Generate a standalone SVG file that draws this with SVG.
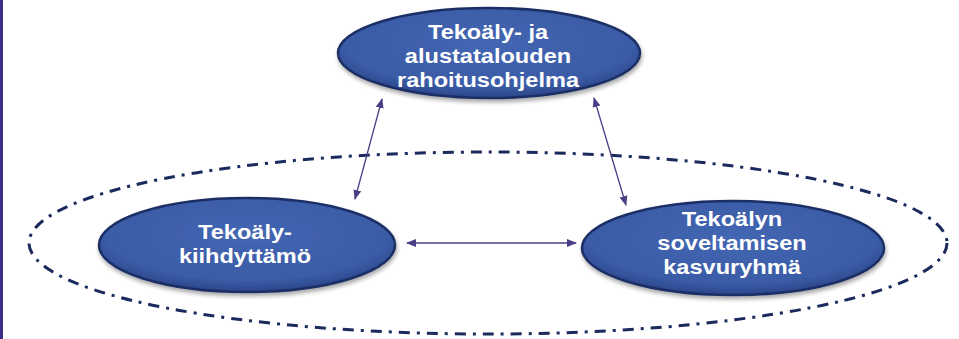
<svg xmlns="http://www.w3.org/2000/svg" width="959" height="339" viewBox="0 0 959 339">
<defs>
<radialGradient id="g" cx="0.5" cy="0.4" r="0.6">
<stop offset="0" stop-color="#4467b3"/>
<stop offset="0.8" stop-color="#3a5ba6"/>
<stop offset="1" stop-color="#2b4689"/>
</radialGradient>
<marker id="ah" viewBox="0 0 10 10" refX="9" refY="5" markerWidth="10" markerHeight="10" markerUnits="userSpaceOnUse" orient="auto-start-reverse">
<path d="M0,1 L10,5 L0,9 Z" fill="#4a3f86"/>
</marker>
<filter id="sh" x="-10%" y="-10%" width="120%" height="130%">
<feGaussianBlur in="SourceAlpha" stdDeviation="2"/>
<feOffset dx="1" dy="3"/>
<feComponentTransfer><feFuncA type="linear" slope="0.35"/></feComponentTransfer>
<feMerge><feMergeNode/><feMergeNode in="SourceGraphic"/></feMerge>
</filter>
</defs>
<style>
.node ellipse{fill:url(#g);stroke:#1c2f66;stroke-width:2.5;filter:url(#sh)}
.node text{font-family:"Liberation Sans",Arial,sans-serif;font-weight:bold;font-size:20.5px;fill:#ffffff;text-anchor:middle}
.conn line{stroke:#4a3f86;stroke-width:1.3;marker-start:url(#ah);marker-end:url(#ah)}
.boundary{fill:none;stroke:#1b2a5c;stroke-width:3;stroke-dasharray:11 7 3 7}
</style>
<rect x="0" y="0" width="959" height="339" fill="#ffffff"/>
<rect x="0" y="0" width="3" height="339" fill="#3d3088"/>
<ellipse class="boundary" cx="488" cy="243" rx="459" ry="91"/>
<g id="connectors" class="conn">
<line x1="382" y1="99" x2="355" y2="199"/>
<line x1="594" y1="98" x2="626" y2="205"/>
<line x1="407" y1="243" x2="576" y2="243"/>
</g>
<g id="n-top" class="node">
<ellipse cx="489" cy="53" rx="151" ry="45"/>
<g transform="translate(488 0) scale(1.15 1)">
<text x="0" y="39">Tekoäly- ja</text>
<text x="0" y="63">alustatalouden</text>
<text x="0" y="87">rahoitusohjelma</text>
</g>
</g>
<g id="n-left" class="node">
<ellipse cx="247" cy="245" rx="148" ry="47"/>
<g transform="translate(245 0) scale(1.15 1)">
<text x="0" y="239">Tekoäly-</text>
<text x="0" y="263">kiihdyttämö</text>
</g>
</g>
<g id="n-right" class="node">
<ellipse cx="733" cy="248" rx="151" ry="47"/>
<g transform="translate(732 0) scale(1.15 1)">
<text x="0" y="226">Tekoälyn</text>
<text x="0" y="250">soveltamisen</text>
<text x="0" y="274">kasvuryhmä</text>
</g>
</g>
</svg>
